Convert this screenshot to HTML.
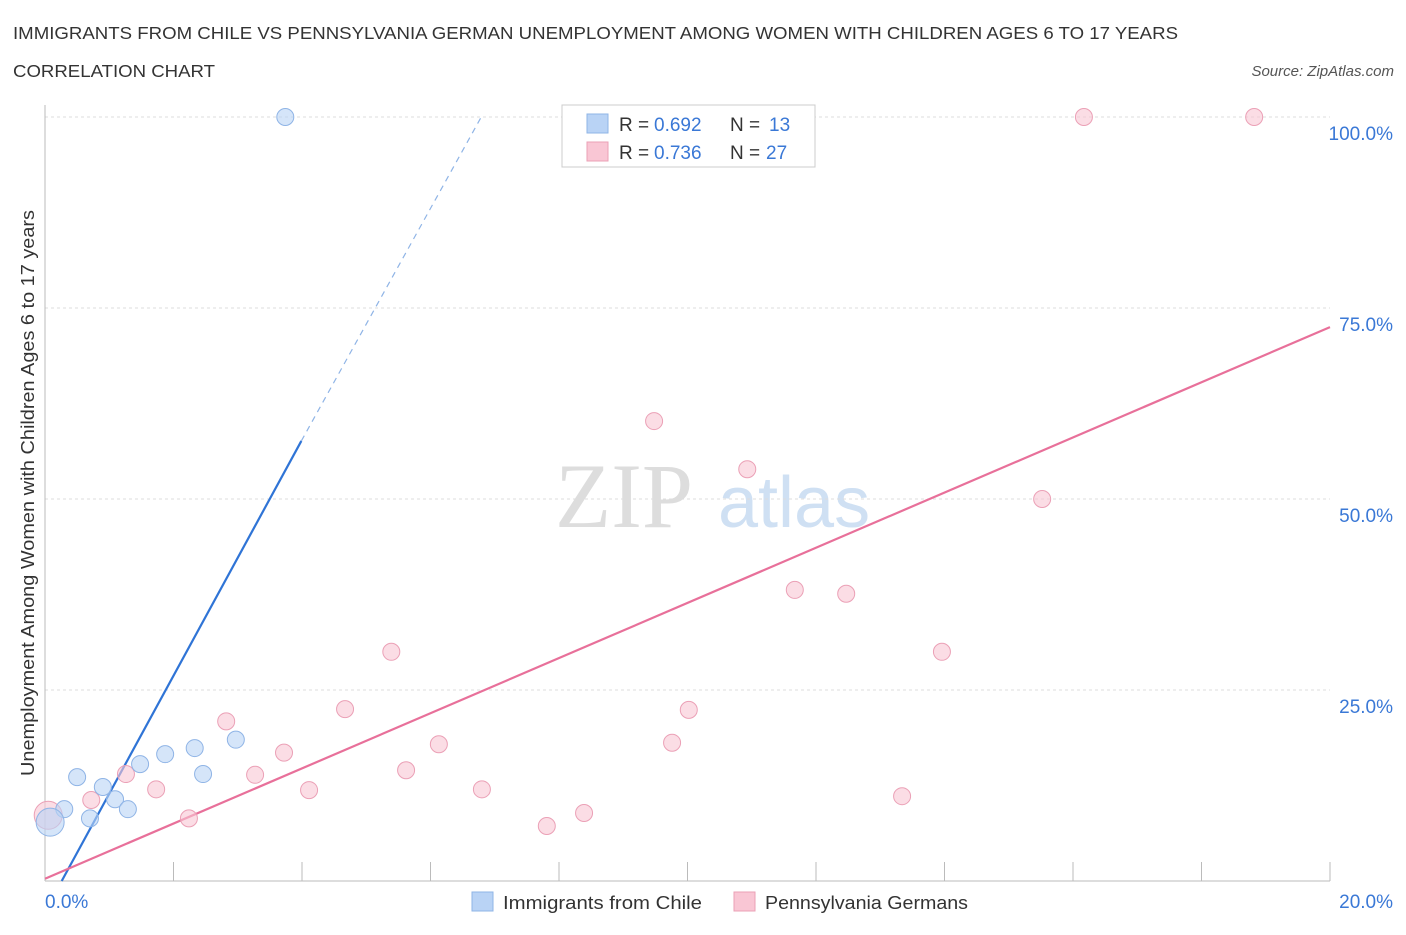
<!DOCTYPE html>
<html><head><meta charset="utf-8"><style>
body{margin:0;background:#fff;font-family:"Liberation Sans",sans-serif;}
</style></head><body>
<svg id="chart" width="1406" height="930" xmlns="http://www.w3.org/2000/svg" font-family="Liberation Sans, sans-serif">
<text x="13" y="39" font-size="17.5" fill="#333" textLength="1165" lengthAdjust="spacingAndGlyphs">IMMIGRANTS FROM CHILE VS PENNSYLVANIA GERMAN UNEMPLOYMENT AMONG WOMEN WITH CHILDREN AGES 6 TO 17 YEARS</text>
<text x="13" y="77" font-size="17.5" fill="#333" textLength="202" lengthAdjust="spacingAndGlyphs">CORRELATION CHART</text>
<text x="1394" y="76" font-size="15" fill="#555" font-style="italic" text-anchor="end">Source: ZipAtlas.com</text>
<text x="555" y="527" font-size="92" fill="#ddd" font-family="Liberation Serif, serif">ZIP</text>
<text x="718" y="527" font-size="72" fill="#cfe0f3">atlas</text>
<text transform="translate(34,493) rotate(-90)" font-size="18" fill="#333" text-anchor="middle" textLength="566" lengthAdjust="spacingAndGlyphs">Unemployment Among Women with Children Ages 6 to 17 years</text>
<g id="grid"></g><g id="lines"></g><g id="pts"></g>
<g>
<rect x="562" y="105" width="253" height="62" fill="#fff" stroke="#ccc"/>
<rect x="587" y="114" width="21" height="19" fill="#b9d3f5" stroke="#8fb4e6"/>
<rect x="587" y="142" width="21" height="19" fill="#f9c6d4" stroke="#eba0b6"/>
<text x="619" y="131" font-size="19" fill="#333">R =</text>
<text x="654" y="131" font-size="19" fill="#3a78d6">0.692</text>
<text x="730" y="131" font-size="19" fill="#333">N =</text>
<text x="769" y="131" font-size="19" fill="#3a78d6">13</text>
<text x="619" y="159" font-size="19" fill="#333">R =</text>
<text x="654" y="159" font-size="19" fill="#3a78d6">0.736</text>
<text x="730" y="159" font-size="19" fill="#333">N =</text>
<text x="766" y="159" font-size="19" fill="#3a78d6">27</text>
</g>
<g>
<rect x="472" y="892" width="21" height="19" fill="#b9d3f5" stroke="#8fb4e6"/>
<text x="503" y="909" font-size="18.5" fill="#333" textLength="199" lengthAdjust="spacingAndGlyphs">Immigrants from Chile</text>
<rect x="734" y="892" width="21" height="19" fill="#f9c6d4" stroke="#eba0b6"/>
<text x="765" y="909" font-size="18.5" fill="#333" textLength="203" lengthAdjust="spacingAndGlyphs">Pennsylvania Germans</text>
</g>
</svg>
<script>
const yTicks=[25,50,75,100];
const xTickLabels=["0.0%","20.0%"];
const blueX=[3.74,0.50,0.30,0.70,0.90,1.09,1.29,1.48,1.87,2.33,2.46,2.97,0.08];
const blueY=[100,13.6,9.4,8.2,12.3,10.7,9.4,15.3,16.6,17.4,14.0,18.5,7.7];
const pinkX=[16.17,18.82,9.48,10.93,15.52,11.67,12.47,5.39,13.96,4.67,10.02,2.82,6.13,9.76,3.72,3.27,5.62,1.26,1.73,4.11,6.80,0.72,13.34,2.24,8.39,7.81,0.05];
const pinkY=[100,100,60.2,53.9,50,38.1,37.6,30,30,22.5,22.4,20.9,17.9,18.1,16.8,13.9,14.5,14.0,12.0,11.9,12.0,10.6,11.1,8.2,8.9,7.2,8.6];
const blueLine=[[0.26,0],[3.99,57.6],[6.79,100]];
const pinkLine=[[0,0.3],[20,72.5]];
const NS="http://www.w3.org/2000/svg";
const X=v=>45+v/20*1285, Y=v=>881-v/25*191;
function mk(t,a,p){const e=document.createElementNS(NS,t);for(const k in a)e.setAttribute(k,a[k]);document.getElementById(p).appendChild(e);return e;}
yTicks.forEach(t=>{
 const l=mk('line',{x1:45,x2:1330,y1:Y(t),y2:Y(t),stroke:'#ddd','stroke-dasharray':'3,3'},'grid');
 
 
 const tx=mk('text',{x:1393,y:Y(t)+23,'font-size':19,fill:'#3a78d6','text-anchor':'end'},'grid');
 tx.textContent=t.toFixed(1)+'%';
 
 
});
const ax=mk('line',{x1:45,x2:1330,y1:881,y2:881,stroke:'#bbb'},'grid');


const ay=mk('line',{x1:45,x2:45,y1:105,y2:881,stroke:'#bbb'},'grid');


for(let i=0;i<=20;i+=2){const t=mk('line',{x1:X(i),x2:X(i),y1:862,y2:881,stroke:'#bbb'},'grid');
 
 }
[[0,45,'start'],[20,1393,'end']].forEach((d,i)=>{const t=mk('text',{x:d[1],y:908,'font-size':19,fill:'#3a78d6','text-anchor':d[2]},'grid');t.textContent=xTickLabels[i];
 
 });
let b=mk('line',{x1:X(blueLine[0][0]),y1:Y(blueLine[0][1]),x2:X(blueLine[1][0]),y2:Y(blueLine[1][1]),stroke:'#2f74d6','stroke-width':2.2},'lines');


b=mk('line',{x1:X(blueLine[1][0]),y1:Y(blueLine[1][1]),x2:X(blueLine[2][0]),y2:Y(blueLine[2][1]),stroke:'#8fb4e6','stroke-width':1.2,'stroke-dasharray':'6,5'},'lines');


b=mk('line',{x1:X(pinkLine[0][0]),y1:Y(pinkLine[0][1]),x2:X(pinkLine[1][0]),y2:Y(pinkLine[1][1]),stroke:'#e8709a','stroke-width':2.2},'lines');


pinkX.forEach((v,i)=>{const c=mk('circle',{cx:X(v),cy:Y(pinkY[i]),r:i==pinkX.length-1?14:8.5,fill:'#f9c6d4','fill-opacity':0.6,stroke:'#eba0b6'},'pts');
 
 });
blueX.forEach((v,i)=>{const c=mk('circle',{cx:X(v),cy:Y(blueY[i]),r:i==blueX.length-1?14:8.5,fill:'#b9d3f5','fill-opacity':0.6,stroke:'#8fb4e6'},'pts');
 
 });
</script>
</body></html>
